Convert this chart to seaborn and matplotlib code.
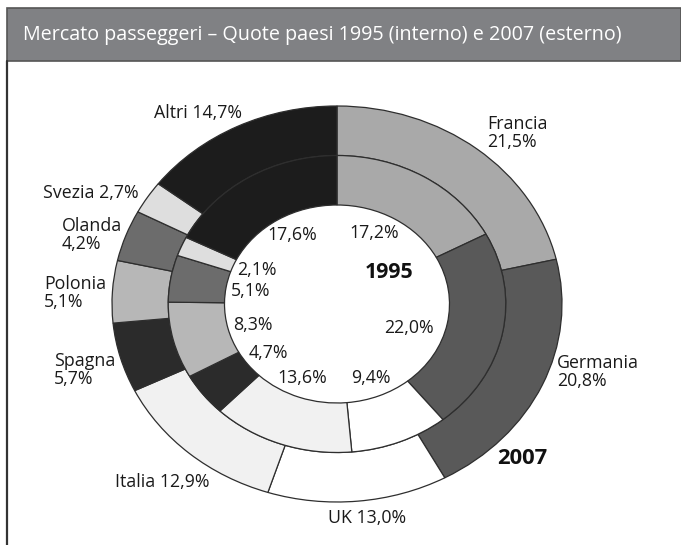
import matplotlib
matplotlib.use("Agg")
import matplotlib.pyplot as plt
from matplotlib.patches import Rectangle
import seaborn as sns

# Quote di mercato passeggeri per paese (%)
paesi = ["Francia", "Germania", "UK", "Italia", "Spagna",
         "Polonia", "Olanda", "Svezia", "Altri"]
quote_1995 = [17.2, 22.0, 9.4, 13.6, 4.7, 8.3, 5.1, 2.1, 17.6]
quote_2007 = [21.5, 20.8, 13.0, 12.9, 5.7, 5.1, 4.2, 2.7, 14.7]
grigi = ["#a9a9a9", "#595959", "#ffffff", "#f1f1f1", "#2b2b2b",
         "#b7b7b7", "#6c6c6c", "#dedede", "#1c1c1c"]

sns.set_theme(style="white")
plt.rcParams["font.family"] = ["Open Sans", "DejaVu Sans"]

W, H = 681, 545
fig = plt.figure(figsize=(W / 100, H / 100), dpi=100)
fig.patch.set_facecolor("white")

def fx(x):
    return x / W

def fy(y):
    return 1 - y / H

# Donut axes: one data unit = 225 px wide, 198 px tall, centred at (337, 304)
cx, cy, rx, ry = 337, 304, 225, 198
ax = fig.add_axes([0, 0, 1, 1])
palette = sns.color_palette(grigi)
edge = dict(edgecolor="#2e2e2e", linewidth=0.9)

ax.pie(quote_2007, radius=1.0, colors=palette, startangle=90,
       counterclock=False, wedgeprops=dict(width=0.25, **edge))
ax.pie(quote_1995, radius=0.75, colors=palette, startangle=90,
       counterclock=False, wedgeprops=dict(width=0.25, **edge))
ax.set_aspect("auto")
ax.set_xlim(-cx / rx, (W - cx) / rx)
ax.set_ylim(-(H - cy) / ry, cy / ry)
ax.axis("off")

def pct(v):
    return f"{v:.1f}".replace(".", ",") + "%"

txt = dict(color="#1a1a1a", fontsize=12.8)

# Etichette anello esterno (2007): posizione in pixel e allineamento
esterne = {
    "Francia":  (487, 133, "left", True),
    "Germania": (557, 372, "left", True),
    "UK":       (367, 518, "center", False),
    "Italia":   (162, 482, "center", False),
    "Spagna":   (54, 370, "left", True),
    "Polonia":  (44, 293, "left", True),
    "Olanda":   (62, 235, "left", True),
    "Svezia":   (91, 193, "center", False),
    "Altri":    (198, 113, "center", False),
}
for nome, v in zip(paesi, quote_2007):
    x, y, ha, a_capo = esterne[nome]
    s = f"{nome}\n{pct(v)}" if a_capo else f"{nome} {pct(v)}"
    fig.text(fx(x), fy(y), s, ha=ha, va="center", linespacing=0.95,
             multialignment="left", **txt)

# Etichette anello interno (1995)
interne = {
    "Francia": (374, 233), "Germania": (409, 328), "UK": (371, 378),
    "Italia": (302, 378), "Spagna": (268, 353), "Polonia": (253, 325),
    "Olanda": (251, 291), "Svezia": (257, 270), "Altri": (292, 235),
}
for nome, v in zip(paesi, quote_1995):
    x, y = interne[nome]
    fig.text(fx(x), fy(y), pct(v), ha="center", va="center", **txt)

fig.text(fx(389), fy(273), "1995", ha="center", va="center",
         fontsize=15.3, fontweight="bold", color="#111111")
fig.text(fx(522), fy(459), "2007", ha="center", va="center",
         fontsize=15.8, fontweight="bold", color="#111111")

# Barra del titolo e cornice sinistra
fig.add_artist(Rectangle((fx(7), fy(61)), fx(674), 53 / H,
                         transform=fig.transFigure, facecolor="#808184",
                         edgecolor="#555555", linewidth=1.2))
fig.add_artist(plt.Line2D([fx(7), fx(7)], [fy(61), 0],
                          transform=fig.transFigure, color="#333333",
                          linewidth=1.6))
fig.text(fx(23), fy(35), "Mercato passeggeri \u2013 Quote paesi 1995 (interno) e 2007 (esterno)",
         ha="left", va="center", color="white", fontsize=14.2,
         family=["Open Sans", "DejaVu Sans"])

fig.savefig("out.png", dpi=100)
